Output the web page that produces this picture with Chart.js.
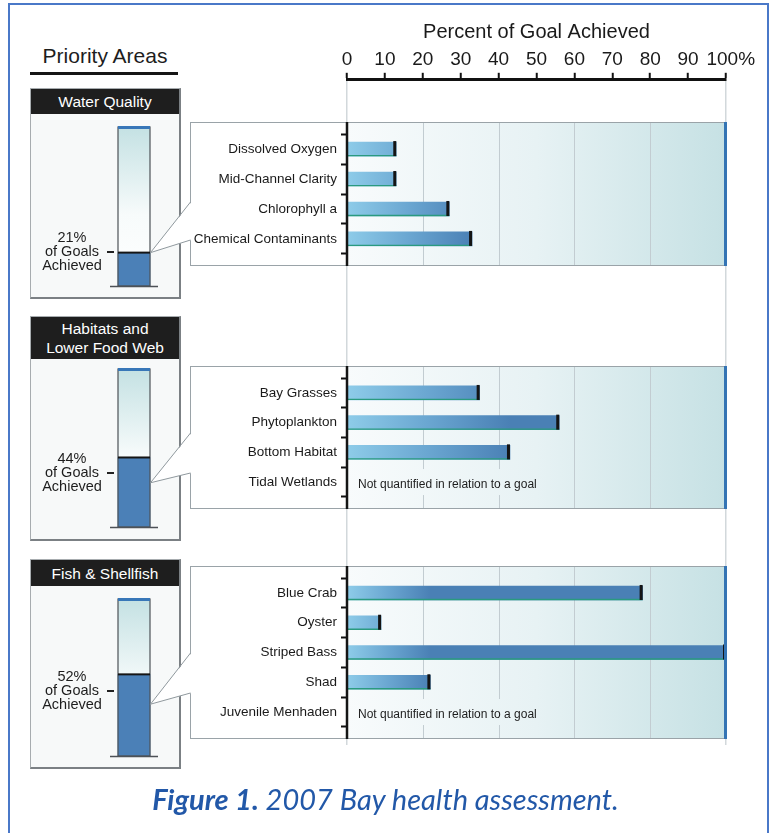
<!DOCTYPE html>
<html>
<head>
<meta charset="utf-8">
<script src="https://cdn.jsdelivr.net/npm/chart.js@4.4.0/dist/chart.umd.min.js"></script>
<style>
  body { margin: 0; background: #fff; }
  #page { position: relative; width: 771px; height: 833px; overflow: hidden;
          font-family: "Liberation Sans", Arial, Helvetica, sans-serif; color: #1d1d1d; }
  #page canvas { position: absolute; }
  .frame { position: absolute; left: 8px; top: 3px; width: 757px; height: 900px;
           border: 2px solid #4a78c8; }
  .heading { position: absolute; left: 10px; width: 190px; top: 44px; text-align: center;
             font-size: 21px; }
  .rule { position: absolute; left: 30px; top: 72px; width: 148px; height: 3px; background: #161616; }
  .box { position: absolute; left: 30px; width: 148px; background: #f7f9f9;
         border-top: 1px solid #a7acaf; border-left: 1px solid #a7acaf;
         border-right: 2px solid #7b8084; border-bottom: 2px solid #7b8084; }
  .box .head { background: #1e1e1e; color: #fff; text-align: center; font-size: 15.5px;
               display: flex; flex-direction: column; justify-content: center; line-height: 19px; }
  .pct { position: absolute; left: 27px; width: 90px; text-align: center; font-size: 14.5px;
         line-height: 14px; }
  .dash { position: absolute; left: 107px; width: 7px; height: 2px; background: #222; }
  .caption { position: absolute; left: 0; width: 771px; top: 781px; text-align: center;
             font-family: Lato, "Open Sans", sans-serif; font-style: italic; font-size: 29px;
             color: #2258a8; }
  .caption b { font-weight: 700; }
</style>
</head>
<body>
<div id="page">
  <div class="frame"></div>
  <div class="heading">Priority Areas</div>
  <div class="rule"></div>
  <div class="caption"><b>Figure 1.</b> 2007 Bay health assessment.</div>
</div>
<script>
const FONT = '"Liberation Sans", Arial, Helvetica, sans-serif';

// ---- data ----
const axisTicks = [0, 10, 20, 30, 40, 50, 60, 70, 80, 90, 100];
const axisLabels = ['0', '10', '20', '30', '40', '50', '60', '70', '80', '90', '100%'];

const areaNames = ['Water Quality', 'Habitats and\nLower Food Web', 'Fish & Shellfish'];
const areaAchieved = [21, 44, 52];

const wqLabels = ['Dissolved Oxygen', 'Mid-Channel Clarity', 'Chlorophyll a', 'Chemical Contaminants'];
const wqValues = [13, 13, 27, 33];

const habLabels = ['Bay Grasses', 'Phytoplankton', 'Bottom Habitat', 'Tidal Wetlands'];
const habValues = [35, 56, 43, null];

const fishLabels = ['Blue Crab', 'Oyster', 'Striped Bass', 'Shad', 'Juvenile Menhaden'];
const fishValues = [78, 9, 100, 22, null];

const noGoalNote = 'Not quantified in relation to a goal';

// ---- layout (pixels) ----
const layout = [
  { box: [88, 208], head: 25, tube: [127, 286], callout: [122, 266], pad: [10, 8], tip: 21, gap: [202, 240], pctY: 237 },
  { box: [316, 222], head: 42, tube: [369, 527], callout: [366, 509], pad: [10, 7], tip: 28, gap: [433, 473], pctY: 458 },
  { box: [559, 207], head: 26, tube: [599, 756], callout: [566, 739], pad: [6, 8], tip: 33, gap: [653, 693], pctY: 676 }
];
const panelData = [[wqLabels, wqValues], [habLabels, habValues], [fishLabels, fishValues]];

const page = document.getElementById('page');

function addCanvas(left, top, w, h) {
  const c = document.createElement('canvas');
  c.width = w; c.height = h;
  c.style.left = left + 'px'; c.style.top = top + 'px';
  c.style.width = w + 'px'; c.style.height = h + 'px';
  page.appendChild(c);
  return c;
}

// top percent axis, also gives the long 0 and 100 guide lines
new Chart(addCanvas(0, 0, 771, 750), {
  type: 'scatter',
  data: { datasets: [{ data: [] }] },
  options: {
    responsive: false, animation: false,
    layout: { padding: { left: 347, right: 45, top: 20, bottom: 5 } },
    plugins: { legend: { display: false }, tooltip: { enabled: false } },
    scales: {
      x: {
        position: 'top', min: 0, max: 100,
        afterBuildTicks: s => { s.ticks = axisTicks.map(v => ({ value: v })); },
        ticks: { autoSkip: false, maxRotation: 0, padding: 2, color: '#1a1a1a',
                 font: { family: FONT, size: 19 },
                 // the "%" hangs to the right of the 100 tick, as in print
                 callback: (v, i) => (i === axisLabels.length - 1 ? '\u2002' : '') + axisLabels[i] },
        title: { display: true, text: 'Percent of Goal Achieved', color: '#1a1a1a',
                 font: { family: FONT, size: 20 }, padding: { top: 0, bottom: 2 } },
        grid: { color: c => (c.tick && (c.tick.value === 0 || c.tick.value === 100)) ? '#d2d8db' : 'rgba(0,0,0,0)',
                lineWidth: 1.5, tickColor: '#111', tickLength: 7, tickWidth: 2 },
        border: { color: '#111', width: 3 }
      },
      y: { display: false, min: 0, max: 1 }
    }
  }
});

// panel boxes
layout.forEach((L, i) => {
  const box = document.createElement('div');
  box.className = 'box';
  box.style.top = L.box[0] + 'px';
  box.style.height = L.box[1] + 'px';
  const head = document.createElement('div');
  head.className = 'head';
  head.style.height = L.head + 'px';
  head.innerHTML = areaNames[i].split('\n').map(s => '<div>' + s.replace('&', '&amp;') + '</div>').join('');
  box.appendChild(head);
  page.appendChild(box);

  const pct = document.createElement('div');
  pct.className = 'pct';
  pct.style.top = (L.pctY - 7) + 'px';
  pct.innerHTML = areaAchieved[i] + '%<br>of Goals<br>Achieved';
  page.appendChild(pct);

  const dash = document.createElement('div');
  dash.className = 'dash';
  dash.style.top = (L.pctY + 14) + 'px';
  page.appendChild(dash);
});

// thermometer tubes
const tubePlugin = {
  id: 'tube',
  beforeDatasetsDraw(chart) {
    const { ctx, chartArea: a } = chart;
    const el = chart.getDatasetMeta(0).data[0];
    const x0 = el.x - el.width / 2;
    const g = ctx.createLinearGradient(0, a.top, 0, a.bottom);
    g.addColorStop(0, '#c4e1e3');
    g.addColorStop(0.55, '#f7fbfb');
    g.addColorStop(1, '#ffffff');
    ctx.save();
    ctx.fillStyle = g;
    ctx.fillRect(x0, a.top, el.width, a.bottom - a.top);
    ctx.restore();
  },
  afterDatasetsDraw(chart) {
    const { ctx, chartArea: a } = chart;
    const el = chart.getDatasetMeta(0).data[0];
    const x0 = el.x - el.width / 2;
    ctx.save();
    ctx.strokeStyle = '#4d5257';
    ctx.lineWidth = 1.2;
    ctx.strokeRect(x0, a.top, el.width, a.bottom - a.top);
    ctx.strokeStyle = '#151515';
    ctx.lineWidth = 2;
    ctx.beginPath(); ctx.moveTo(x0, el.y); ctx.lineTo(x0 + el.width, el.y); ctx.stroke();
    ctx.fillStyle = '#3877b8';
    ctx.fillRect(x0, a.top - 1, el.width, 3);
    ctx.strokeStyle = '#4d5257';
    ctx.lineWidth = 1.5;
    ctx.beginPath(); ctx.moveTo(a.left, a.bottom + 0.5); ctx.lineTo(a.right, a.bottom + 0.5); ctx.stroke();
    ctx.restore();
  }
};

const tubes = layout.map((L, i) => new Chart(addCanvas(110, L.tube[0] - 4, 48, L.tube[1] - L.tube[0] + 8), {
  type: 'bar',
  data: { labels: [areaNames[i]], datasets: [{ data: [areaAchieved[i]], backgroundColor: '#4b80b7', borderWidth: 0, barThickness: 32 }] },
  options: {
    responsive: false, animation: false,
    layout: { padding: { top: 4, bottom: 4, left: 0, right: 0 } },
    plugins: { legend: { display: false }, tooltip: { enabled: false } },
    scales: { x: { display: false }, y: { display: false, min: 0, max: 100 } }
  },
  plugins: [tubePlugin]
}));

// callout bar charts
const calloutPlugin = {
  id: 'callout',
  beforeDraw(chart) {
    const { ctx, chartArea: a, height, scales: { x, y } } = chart;
    const vals = chart.data.datasets[0].data;
    ctx.save();
    ctx.fillStyle = '#fff';
    ctx.fillRect(0, 0, a.right, height);
    const g = ctx.createLinearGradient(a.left, 0, a.right, 0);
    g.addColorStop(0, '#f8fbfc');
    g.addColorStop(0.5, '#e7f2f4');
    g.addColorStop(1, '#c6e1e4');
    ctx.fillStyle = g;
    ctx.fillRect(a.left, 0, a.right - a.left, height);
    ctx.strokeStyle = '#c2ccd1';
    ctx.lineWidth = 1;
    [20, 40, 60, 80].forEach(v => {
      const px = Math.round(x.getPixelForValue(v)) + 0.5;
      ctx.beginPath(); ctx.moveTo(px, 0); ctx.lineTo(px, height); ctx.stroke();
    });
    // note rows hide the grid behind their text
    ctx.font = '12px ' + FONT;
    const tw = ctx.measureText(noGoalNote).width;
    vals.forEach((v, j) => {
      if (v != null) return;
      const cy = y.getPixelForValue(j);
      ctx.fillStyle = g;
      ctx.fillRect(a.left + 1, cy - 13, tw + 22, 26);
    });
    ctx.restore();
  },
  beforeDatasetsDraw(chart) {
    // each bar shades light to dark along its own length
    const ctx = chart.ctx;
    chart.getDatasetMeta(0).data.forEach(bar => {
      if (!isFinite(bar.x) || !isFinite(bar.base) || bar.x === bar.base) return;
      const g = ctx.createLinearGradient(bar.base, 0, bar.x, 0);
      g.addColorStop(0, '#8ecce9');
      g.addColorStop(0.5, '#6aa6d1');
      g.addColorStop(1, '#4a80b5');
      bar.options.backgroundColor = g;
    });
  },
  afterDatasetsDraw(chart) {
    const { ctx, chartArea: a, scales: { y } } = chart;
    const vals = chart.data.datasets[0].data;
    const meta = chart.getDatasetMeta(0);
    ctx.save();
    meta.data.forEach((bar, j) => {
      if (vals[j] == null) {
        ctx.fillStyle = '#1d1d1d';
        ctx.font = '12px ' + FONT;
        ctx.textBaseline = 'middle';
        ctx.fillText(noGoalNote, a.left + 11, y.getPixelForValue(j) + 3);
        return;
      }
      const top = bar.y - bar.height / 2, bot = bar.y + bar.height / 2;
      ctx.strokeStyle = '#2a9a7f';
      ctx.lineWidth = 1.3;
      ctx.beginPath(); ctx.moveTo(bar.base, bot - 0.5); ctx.lineTo(bar.x, bot - 0.5); ctx.stroke();
      ctx.fillStyle = '#141414';
      ctx.fillRect(bar.x - 3, top - 1, 3, bar.height + 1);
    });
    ctx.restore();
  },
  afterDraw(chart) {
    const { ctx, chartArea: a, height } = chart;
    ctx.save();
    ctx.strokeStyle = '#9aa3a8';
    ctx.lineWidth = 1;
    ctx.beginPath();
    ctx.moveTo(0.5, 0); ctx.lineTo(0.5, height);
    ctx.moveTo(0, 0.5); ctx.lineTo(a.right, 0.5);
    ctx.moveTo(0, height - 0.5); ctx.lineTo(a.right, height - 0.5);
    ctx.stroke();
    ctx.strokeStyle = '#151515';
    ctx.lineWidth = 2.5;
    ctx.beginPath(); ctx.moveTo(a.left, 0); ctx.lineTo(a.left, height); ctx.stroke();
    ctx.fillStyle = '#3474b4';
    ctx.fillRect(a.right - 2, 0, 3, height);
    ctx.restore();
  }
};

layout.forEach((L, i) => {
  const [labels, values] = panelData[i];
  new Chart(addCanvas(190, L.callout[0], 538, L.callout[1] - L.callout[0]), {
    type: 'bar',
    data: { labels: labels, datasets: [{ data: values, backgroundColor: '#6aa6d1', borderWidth: 0, barThickness: 14 }] },
    options: {
      indexAxis: 'y', responsive: false, animation: false,
      layout: { padding: { top: L.pad[0], bottom: L.pad[1], left: 0, right: 2 } },
      plugins: { legend: { display: false }, tooltip: { enabled: false } },
      scales: {
        x: { display: false, min: 0, max: 100 },
        y: {
          afterFit: s => { s.width = 157; },
          border: { display: false },
          grid: { offset: true, drawOnChartArea: false, tickLength: 6, tickWidth: 2, tickColor: '#111', color: '#111' },
          ticks: { color: '#1a1a1a', padding: 4, font: { family: FONT, size: 13.5 } }
        }
      }
    },
    plugins: [calloutPlugin]
  });
});

// callout pointers from each tube to its panel
const over = addCanvas(0, 0, 771, 833);
const octx = over.getContext('2d');
tubes.forEach((tc, i) => {
  const L = layout[i];
  const el = tc.getDatasetMeta(0).data[0];
  const tipX = 110 + el.x + el.width / 2 + 0.5;
  const tipY = L.tube[0] - 4 + tc.scales.y.getPixelForValue(L.tip);
  octx.fillStyle = '#fff';
  octx.beginPath();
  octx.moveTo(tipX, tipY); octx.lineTo(191.5, L.gap[0]); octx.lineTo(191.5, L.gap[1]); octx.closePath();
  octx.fill();
  octx.strokeStyle = '#8f989d';
  octx.lineWidth = 1;
  octx.beginPath();
  octx.moveTo(190.5, L.gap[0]); octx.lineTo(tipX, tipY); octx.lineTo(190.5, L.gap[1]);
  octx.stroke();
});
// caption stays on top
page.appendChild(document.querySelector('.caption'));
</script>
</body>
</html>
